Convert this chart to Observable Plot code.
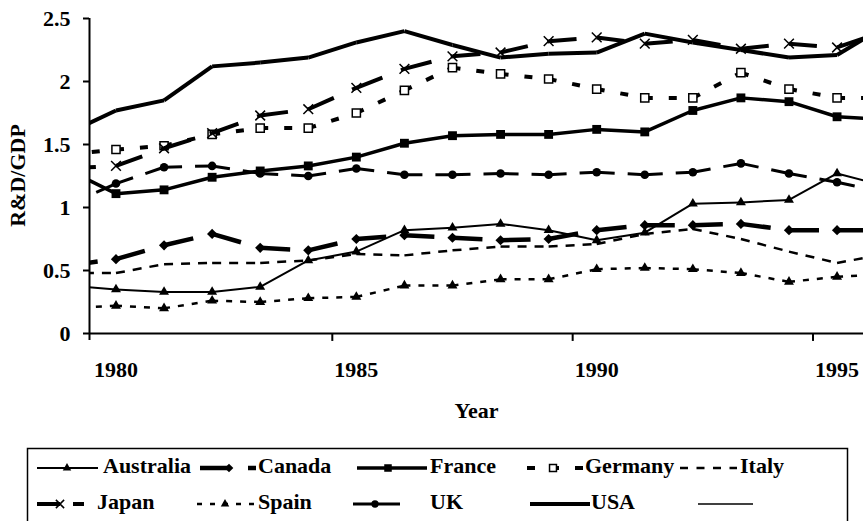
<!DOCTYPE html>
<html><head><meta charset="utf-8">
<script src="https://cdn.jsdelivr.net/npm/d3@7"></script>
<script src="https://cdn.jsdelivr.net/npm/@observablehq/plot@0.6"></script>
<style>
body{margin:0;background:#fff;}
#wrap{position:relative;width:863px;height:521px;overflow:hidden;background:#fff;}
#chart{position:absolute;left:0;top:0;}
.chart g[aria-label^="y-axis"] path, .chart g[aria-label^="y-axis"] line {stroke-width:2px;}
#legend{position:absolute;left:0;top:0;}
</style>
</head><body><div id="wrap"><div id="chart"></div><svg id="legend" width="863" height="521"></svg></div>
<script>
// ---- data ----
const years     = [1979, 1980, 1981, 1982, 1983, 1984, 1985, 1986, 1987, 1988, 1989, 1990, 1991, 1992, 1993, 1994, 1995, 1996];
const australia = [0.38, 0.35, 0.33, 0.33, 0.37, 0.58, 0.65, 0.82, 0.84, 0.87, 0.82, 0.74, 0.80, 1.03, 1.04, 1.06, 1.27, 1.17];
const canada    = [0.54, 0.59, 0.70, 0.79, 0.68, 0.66, 0.75, 0.78, 0.76, 0.74, 0.75, 0.82, 0.86, 0.86, 0.87, 0.82, 0.82, 0.82];
const france    = [1.30, 1.11, 1.14, 1.24, 1.29, 1.33, 1.40, 1.51, 1.57, 1.58, 1.58, 1.62, 1.60, 1.77, 1.87, 1.84, 1.72, 1.70];
const germany   = [1.42, 1.46, 1.49, 1.58, 1.63, 1.63, 1.75, 1.93, 2.11, 2.06, 2.02, 1.94, 1.87, 1.87, 2.07, 1.94, 1.87, 1.87];
const italy     = [0.48, 0.48, 0.55, 0.56, 0.56, 0.58, 0.63, 0.62, 0.66, 0.69, 0.69, 0.71, 0.79, 0.83, 0.75, 0.65, 0.56, 0.63];
const japan     = [1.31, 1.33, 1.47, 1.59, 1.73, 1.78, 1.95, 2.10, 2.20, 2.23, 2.32, 2.35, 2.30, 2.33, 2.26, 2.30, 2.27, 2.40];
const spain     = [0.20, 0.22, 0.20, 0.26, 0.25, 0.28, 0.29, 0.38, 0.38, 0.43, 0.43, 0.51, 0.52, 0.51, 0.48, 0.41, 0.45, 0.47];
const uk        = [1.02, 1.19, 1.32, 1.33, 1.27, 1.25, 1.31, 1.26, 1.26, 1.27, 1.26, 1.28, 1.26, 1.28, 1.35, 1.27, 1.20, 1.12];
const usa       = [1.59, 1.77, 1.85, 2.12, 2.15, 2.19, 2.31, 2.40, 2.29, 2.19, 2.22, 2.23, 2.38, 2.31, 2.25, 2.19, 2.21, 2.44];
const seriesNames = ["Australia", "Canada", "France", "Germany", "Italy", "Japan", "Spain", "UK", "USA", ""];
const yTicks = [0, 0.5, 1, 1.5, 2, 2.5];
const xTickLabels = [1980, 1985, 1990, 1995];
const xTickMarks = [1984.5, 1989.5, 1994.5];
const firstShown = 1980, lastShown = 1995;

// ---- styles ----
const FONT = "'Liberation Serif','Times New Roman',serif";
const styles = {
  Australia: {values: australia, width: 2,   dash: null,   symbol: "triangle", r: 3.7, fill: "black", stroke: "none"},
  Canada:    {values: canada,    width: 4.5, dash: "30,18", symbol: "diamond2", r: 4.6, fill: "black", stroke: "none"},
  France:    {values: france,    width: 3.5, dash: null,   symbol: "square",   r: 5,   fill: "black", stroke: "none"},
  Germany:   {values: germany,   width: 4,   dash: "8,16", symbol: "square",   r: 4.6, fill: "white", stroke: "black", sw: 1.5},
  Italy:     {values: italy,     width: 2.5, dash: "9,8",  symbol: null},
  Japan:     {values: japan,     width: 4,   dash: "28,20", symbol: "times",   r: 4.5, fill: "none",  stroke: "black", sw: 1.5},
  Spain:     {values: spain,     width: 2.5, dash: "6,8",  symbol: "triangle", r: 3.7, fill: "black", stroke: "none"},
  UK:        {values: uk,        width: 3,   dash: "18,13", symbol: "circle",  r: 4.3, fill: "black", stroke: "none"},
  USA:       {values: usa,       width: 4,   dash: null,   symbol: null}
};

const xmin = 1979.449, xmax = 1995.55;
const marks = [];
for (const name of seriesNames) {
  const s = styles[name];
  if (!s) continue;
  const segs = years.slice(0, -1).map((yr, i) => ({x1: yr, y1: s.values[i], x2: years[i + 1], y2: s.values[i + 1]}));
  marks.push(Plot.link(segs, {x1: "x1", y1: "y1", x2: "x2", y2: "y2", stroke: "black", strokeWidth: s.width,
    strokeDasharray: s.dash || undefined, strokeLinecap: "butt", clip: true}));
  if (s.symbol) {
    const pts = years.map((yr, i) => ({x: yr, v: s.values[i]})).filter(d => d.x >= firstShown && d.x <= lastShown);
    marks.push(Plot.dot(pts, {x: "x", y: "v", symbol: s.symbol, r: s.r, fill: s.fill, stroke: s.stroke, strokeWidth: s.sw || 1}));
  }
}
// axes lines & ticks
marks.push(Plot.ruleY([0], {strokeWidth: 2}));
marks.push(Plot.ruleX([xmin], {y1: -0.056, y2: 2.5, strokeWidth: 2}));
marks.push(Plot.ruleX(xTickMarks, {y1: 0, y2: -0.063, strokeWidth: 2}));
marks.push(Plot.text(xTickLabels, {x: d => d, frameAnchor: "bottom", lineAnchor: "bottom", dy: 43, text: d => String(d),
  fontSize: 22, fontWeight: "bold", fontFamily: FONT, fill: "black"}));
marks.push(Plot.text(["Year"], {x: () => 1987.5, frameAnchor: "bottom", lineAnchor: "bottom", dy: 84, text: d => d,
  fontSize: 22, fontWeight: "bold", fontFamily: FONT, fill: "black"}));
marks.push(Plot.text(["R&D/GDP"], {y: () => 1.254, frameAnchor: "left", textAnchor: "middle", lineAnchor: "middle",
  dx: -72, rotate: -90, text: d => d, fontSize: 22, fontWeight: "bold", fontFamily: FONT, fill: "black"}));

const chart = Plot.plot({
  width: 863, height: 440,
  marginLeft: 89, marginRight: 0, marginTop: 18, marginBottom: 107,
  className: "chart",
  style: {fontFamily: FONT, fontSize: "22px", fontWeight: "bold", background: "white", color: "black", overflow: "visible"},
  x: {domain: [xmin, xmax], axis: null},
  y: {domain: [0, 2.5], ticks: yTicks, tickFormat: d => String(d), tickSize: 6, tickPadding: 13, label: null},
  marks
});
document.getElementById("chart").appendChild(chart);

// ---- legend (below the plot) ----
const lg = d3.select("#legend");
lg.append("rect").attr("x", 27.5).attr("y", 448.5).attr("width", 820).attr("height", 100)
  .attr("fill", "none").attr("stroke", "black").attr("stroke-width", 1.5);
const legendLayout = [
  {name: "Australia", x0: 37,  x1: 98,  mx: 67,  row: 0, tx: 103},
  {name: "Canada",    x0: 200, x1: 256, mx: 229, row: 0, tx: 258},
  {name: "France",    x0: 357, x1: 427, mx: 388, row: 0, tx: 430},
  {name: "Germany",   x0: 527, x1: 583, mx: 553, row: 0, tx: 585},
  {name: "Italy",     x0: 680, x1: 737, mx: null, row: 0, tx: 740, dash: "8,8.5"},
  {name: "Japan",     x0: 37,  x1: 84,  mx: 60,  row: 1, tx: 97, dash: "23,13"},
  {name: "Spain",     x0: 197, x1: 254, mx: 225, row: 1, tx: 258, dash: "5,8"},
  {name: "UK",        x0: 353, x1: 400, mx: 375, row: 1, tx: 430, dash: "none"},
  {name: "USA",       x0: 530, x1: 590, mx: null, row: 1, tx: 591},
  {name: "",          x0: 698, x1: 753, mx: null, row: 1, tx: 760}
];
const rowY = [466, 502];
const symMap = {triangle: d3.symbolTriangle, diamond2: d3.symbolDiamond2, square: d3.symbolSquare, times: d3.symbolTimes, circle: d3.symbolCircle};
for (const it of legendLayout) {
  const s = styles[it.name] || {width: 1.5, dash: null, symbol: null};
  const cy = rowY[it.row] + 2;
  const dash = it.dash ? (it.dash === "none" ? null : it.dash) : s.dash;
  lg.append("line").attr("x1", it.x0).attr("x2", it.x1).attr("y1", cy).attr("y2", cy)
    .attr("stroke", "black").attr("stroke-width", it.name === "" ? 1.5 : s.width)
    .attr("stroke-dasharray", dash);
  if (s.symbol && it.mx != null) {
    const r = s.r * 0.85;
    lg.append("path").attr("transform", `translate(${it.mx},${cy})`)
      .attr("d", d3.symbol(symMap[s.symbol], Math.PI * r * r)())
      .attr("fill", s.fill).attr("stroke", s.stroke).attr("stroke-width", s.sw || 1);
  }
  if (it.name) {
    lg.append("text").attr("x", it.tx).attr("y", rowY[it.row]).attr("dy", "0.34em")
      .attr("font-family", FONT).attr("font-size", 22).attr("font-weight", "bold").text(it.name);
  }
}
</script>
</body></html>
